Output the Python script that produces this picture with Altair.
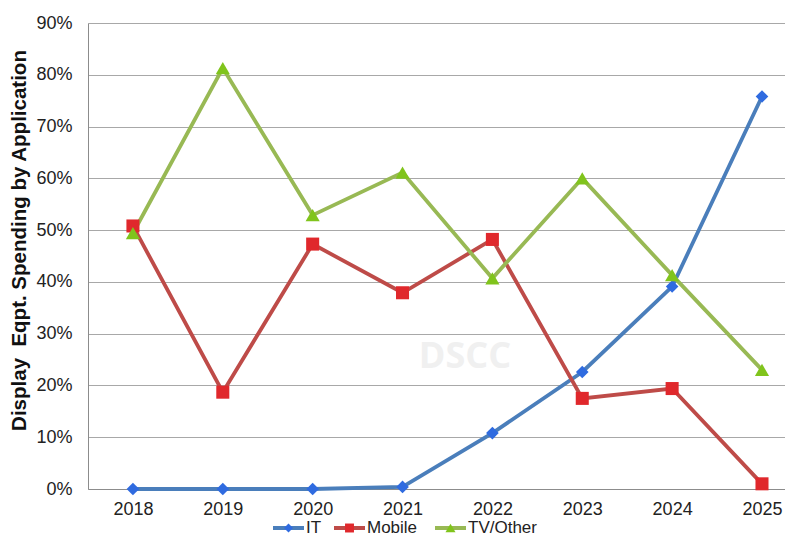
import altair as alt
import pandas as pd

years = [2018, 2019, 2020, 2021, 2022, 2023, 2024, 2025]
series = ["IT", "Mobile", "TV/Other"]
it_vals = [0.0, 0.0, 0.0, 0.004, 0.108, 0.226, 0.391, 0.758]
mobile_vals = [0.508, 0.187, 0.473, 0.379, 0.482, 0.175, 0.194, 0.010]
tv_vals = [0.494, 0.813, 0.529, 0.611, 0.407, 0.600, 0.413, 0.230]
y_ticks = [0.0, 0.1, 0.2, 0.3, 0.4, 0.5, 0.6, 0.7, 0.8, 0.9]

line_colors = ["#4a7ebb", "#be4b48", "#98b954"]
marker_colors = ["#2f6be0", "#e0282c", "#80c41c"]
marker_shapes = ["diamond", "square", "triangle-up"]
marker_sizes = [160, 170, 200]
legend_marker_sizes = [80, 80, 100]

# legend layout (pixels relative to plot area)
LEG_START = [185, 246, 347]
LEG_SYM_W = 31
LEG_Y = 505

rows = []
for s, vals in zip(series, [it_vals, mobile_vals, tv_vals]):
    for yr, v in zip(years, vals):
        rows.append({"year": yr, "series": s, "value": v})
df = pd.DataFrame(rows)

FONT = "Liberation Sans"

x_enc = alt.X(
    "year:Q",
    scale=alt.Scale(domain=[2017.5, 2025.256], nice=False, zero=False),
    axis=alt.Axis(
        values=years, format="d", title=None, grid=False, ticks=False,
        labelFontSize=18, labelFont=FONT, labelColor="#222222", labelPadding=11,
        domainColor="#8c8c8c", labelFlush=False,
    ),
)
y_enc = alt.Y(
    "value:Q",
    scale=alt.Scale(domain=[0, 0.9], nice=False),
    axis=alt.Axis(
        values=y_ticks, format=".0%", ticks=False,
        labelFontSize=18, labelFont=FONT, labelColor="#222222", labelPadding=16,
        domainColor="#8c8c8c", gridColor="#a8a8a8",
        title="Display\u00a0 Eqpt. Spending by Application",
        titleFont=FONT, titleFontSize=20.5, titleFontWeight="bold", titleColor="#111111",
        titleX=-69, titleY=217, titleAngle=270, titleBaseline="middle", titleAlign="center",
    ),
)

lines = alt.Chart(df).mark_line(strokeWidth=3.8).encode(
    x=x_enc, y=y_enc,
    stroke=alt.Stroke("series:N", scale=alt.Scale(domain=series, range=line_colors), legend=None),
    detail="series:N",
)

point_layers = []
for s, c, sh, sz in zip(series, marker_colors, marker_shapes, marker_sizes):
    point_layers.append(
        alt.Chart(df).transform_filter(alt.datum.series == s).mark_point(
            filled=True, opacity=1, shape=sh, size=sz, color=c
        ).encode(x=x_enc, y=y_enc)
    )

# manual legend at the bottom
legend_layers = []
for s, lc, mc, sh, lsz, x0 in zip(series, line_colors, marker_colors, marker_shapes,
                                    legend_marker_sizes, LEG_START):
    ldf = pd.DataFrame({"label": [s]})
    legend_layers.append(
        alt.Chart(ldf).mark_rule(strokeWidth=4, color=lc).encode(
            x=alt.value(x0), x2=alt.value(x0 + LEG_SYM_W), y=alt.value(LEG_Y)
        )
    )
    legend_layers.append(
        alt.Chart(ldf).mark_point(filled=True, opacity=1, shape=sh, size=lsz, color=mc).encode(
            x=alt.value(x0 + LEG_SYM_W / 2), y=alt.value(LEG_Y)
        )
    )
    legend_layers.append(
        alt.Chart(ldf).mark_text(
            font=FONT, fontSize=17, color="#222222", align="left", baseline="middle"
        ).encode(text="label:N", x=alt.value(x0 + LEG_SYM_W + 2), y=alt.value(LEG_Y))
    )

watermark = alt.Chart(pd.DataFrame({"t": ["DSCC"]})).mark_text(
    font="Open Sans", fontSize=36, fontWeight="bold", color="#f0f0f0", align="center", baseline="middle"
).encode(text="t:N", x=alt.value(377), y=alt.value(334))

chart = alt.layer(watermark, lines, *point_layers, *legend_layers).properties(
    width=697, height=466,
    padding={"left": 80, "top": 15, "right": 0, "bottom": 49},
    autosize=alt.AutoSizeParams(type="none"),
).configure_view(stroke=None, clip=False).configure(background="white")

chart.save("out.html", embed_options={"renderer": "svg", "actions": False})
